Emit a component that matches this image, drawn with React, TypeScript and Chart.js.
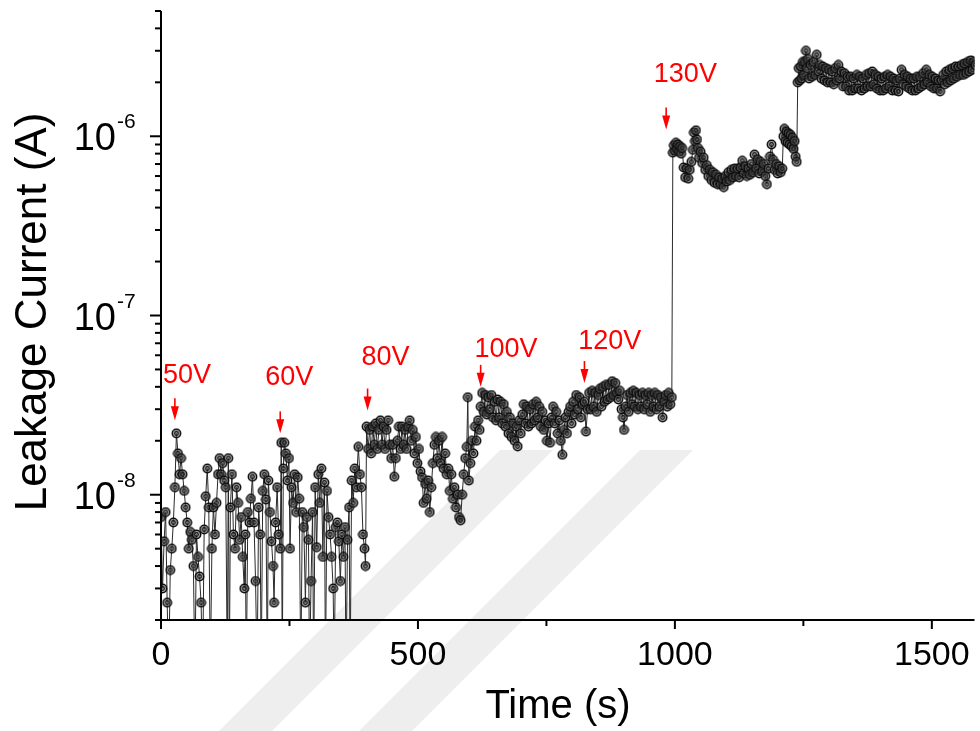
import { useEffect, useRef } from 'react';
import { Chart, registerables } from 'chart.js';

Chart.register(...registerables);

type Sample = [number, number]; // [time in s, leakage current in A]

// Values of 1e-9 lie below the plotted range: the trace drops off the bottom axis.
const preStep: Sample[] = [
  [0, 7.5e-9], [3, 3e-9], [6, 5.5e-9], [9, 8e-9], [12, 2.5e-9], [15, 1e-9], [18, 3.8e-9],
  [21, 5e-9], [24, 7e-9],
];

const step50V: Sample[] = [
  [27, 1.1e-8], [30, 2.2e-8], [33, 1.7e-8], [36, 1.3e-8], [39, 1.6e-8], [42, 1.3e-8], [45, 1.05e-8],
  [48, 8.5e-9], [51, 7e-9], [54, 5e-9], [57, 6.2e-9], [60, 5.6e-9], [63, 4e-9], [66, 1e-9],
  [69, 6e-9], [72, 4.5e-9], [75, 3.5e-9], [78, 2.5e-9], [81, 1e-9], [84, 6.4e-9], [87, 9.8e-9],
  [90, 1.4e-8], [93, 8.5e-9], [96, 1e-9], [99, 5e-9], [102, 8.5e-9], [105, 6e-9], [108, 9e-9],
  [111, 1.3e-8], [114, 1.6e-8], [117, 1.3e-8], [120, 1.5e-8], [123, 1.2e-8], [126, 1.1e-8],
  [129, 1e-9], [131, 1.6e-8], [133, 1e-9], [135, 8.5e-9], [138, 1.3e-8], [141, 6e-9], [144, 5e-9],
  [147, 1.1e-8], [150, 9e-9], [153, 5.6e-9], [156, 7.5e-9], [159, 4.5e-9], [162, 3e-9], [164, 6e-9],
  [166, 1e-9], [169, 8e-9], [172, 7e-9], [175, 9.5e-9], [178, 1.26e-8], [181, 7e-9], [184, 3.3e-9],
  [187, 1e-9], [190, 8.5e-9], [193, 6e-9], [195, 1e-9], [198, 1.05e-8], [201, 1.3e-8], [204, 9.4e-9],
  [207, 1e-9], [209, 1.2e-8], [212, 8e-9], [215, 5.5e-9], [218, 4e-9], [220, 2.5e-9], [223, 7e-9],
  [226, 1.1e-8], [229, 6e-9],
];

const step60V: Sample[] = [
  [232, 5e-9], [234, 1.95e-8], [236, 1e-9], [238, 1.4e-8], [240, 1.95e-8], [243, 1.7e-8], [246, 1.2e-8],
  [249, 1.6e-8], [251, 5e-9], [254, 1.1e-8], [257, 9e-9], [260, 1.3e-8], [263, 8e-9], [266, 1.25e-8],
  [269, 9.5e-9], [272, 1e-9], [275, 8e-9], [278, 6.6e-9], [281, 2.5e-9], [284, 7.5e-9], [287, 5.6e-9],
  [289, 1e-9], [292, 3.3e-9], [295, 8e-9], [297, 1e-9], [300, 1.1e-8], [303, 5.1e-9], [306, 1.3e-8],
  [309, 9e-9], [312, 1.4e-8], [315, 4.5e-9], [318, 1.17e-8], [320, 1e-9], [323, 1.05e-8], [326, 7.5e-9],
  [329, 6e-9], [332, 4.5e-9], [335, 3e-9], [337, 1e-9], [340, 6.6e-9], [343, 7e-9], [346, 5.5e-9],
  [349, 3.3e-9], [352, 6e-9], [355, 4.5e-9], [358, 6.6e-9], [360, 1e-9], [363, 5.6e-9], [366, 8.5e-9],
  [368, 1e-9], [371, 1.2e-8], [374, 9e-9], [377, 1.4e-8], [380, 1.1e-8], [384, 1.85e-8], [387, 1.3e-8],
  [390, 1.1e-8], [393, 6e-9], [396, 5e-9], [398, 4e-9],
];

const step80V: Sample[] = [
  [400, 2.4e-8], [403, 1.8e-8], [406, 2.3e-8], [409, 1.7e-8], [412, 2.4e-8], [415, 1.9e-8], [418, 2.5e-8],
  [421, 1.8e-8], [424, 2.3e-8], [427, 2.6e-8], [430, 1.9e-8], [433, 2.4e-8], [436, 1.8e-8], [439, 2.3e-8],
  [442, 2.6e-8], [445, 1.9e-8], [448, 1.6e-8], [451, 1.9e-8], [454, 1.26e-8], [457, 1.6e-8], [460, 2e-8],
  [463, 2.4e-8], [466, 1.8e-8], [469, 2.4e-8], [472, 1.9e-8], [475, 2.3e-8], [478, 1.8e-8], [481, 2.4e-8],
  [484, 2.6e-8], [487, 2e-8], [490, 2.3e-8], [493, 1.7e-8], [496, 2.1e-8], [499, 1.5e-8], [502, 1.8e-8],
  [505, 1.35e-8], [508, 1.25e-8], [511, 9e-9], [514, 1.15e-8], [517, 9.5e-9], [520, 1.2e-8], [523, 8e-9],
  [526, 1.1e-8], [529, 1.5e-8], [532, 1.9e-8], [535, 2.1e-8], [538, 1.6e-8], [541, 2e-8], [544, 1.5e-8],
  [547, 2.1e-8], [550, 1.4e-8], [553, 1.7e-8], [556, 1.3e-8], [559, 1.4e-8], [562, 1.05e-8], [565, 1.3e-8],
  [568, 9.5e-9], [571, 1.1e-8], [574, 8.5e-9], [577, 1e-8], [580, 7.5e-9], [583, 7.2e-9], [586, 1e-8],
  [589, 1.3e-8], [592, 1.6e-8], [595, 1.85e-8], [597, 3.5e-8], [599, 1.2e-8], [602, 1.5e-8], [605, 2e-8],
  [608, 1.7e-8], [611, 2.4e-8], [614, 2e-8], [617, 2.6e-8], [620, 2.3e-8],
];

const step100V: Sample[] = [
  [622, 3.1e-8], [625, 3.7e-8], [628, 2.9e-8], [631, 3.6e-8], [634, 2.8e-8], [637, 3.5e-8], [640, 3e-8],
  [643, 3.6e-8], [646, 2.7e-8], [649, 3.3e-8], [652, 2.6e-8], [655, 3.4e-8], [658, 2.7e-8], [661, 3.3e-8],
  [664, 2.5e-8], [667, 3.2e-8], [670, 2.4e-8], [673, 2.9e-8], [676, 2.2e-8], [679, 2.7e-8], [682, 2.1e-8],
  [685, 2.5e-8], [688, 2e-8], [691, 2.4e-8], [694, 1.86e-8], [697, 2.6e-8], [700, 2.2e-8], [703, 2.8e-8],
  [706, 3.2e-8], [709, 2.5e-8], [712, 3.1e-8], [715, 2.4e-8], [718, 3e-8], [721, 2.5e-8], [724, 3.2e-8],
  [727, 2.6e-8], [730, 3.3e-8], [733, 2.7e-8], [736, 3.1e-8], [739, 2.4e-8], [742, 2.9e-8], [745, 2.3e-8],
  [748, 2.6e-8], [751, 2e-8], [754, 2.5e-8], [757, 1.95e-8], [760, 2.7e-8], [763, 3.1e-8], [766, 2.5e-8],
  [769, 2.9e-8], [772, 2.2e-8], [775, 2.6e-8], [778, 2e-8], [781, 1.67e-8], [784, 2.3e-8], [787, 2.7e-8],
  [790, 2.2e-8], [793, 2.9e-8], [796, 3.1e-8], [799, 2.5e-8], [802, 3.3e-8], [805, 2.8e-8], [808, 3.6e-8],
  [811, 3e-8], [814, 3.5e-8], [817, 2.7e-8], [820, 3.2e-8],
];

const step120V: Sample[] = [
  [824, 3.3e-8], [827, 2.25e-8], [830, 3e-8], [833, 3.7e-8], [836, 3e-8], [839, 3.8e-8], [842, 3.1e-8],
  [845, 3.7e-8], [848, 2.9e-8], [851, 3.6e-8], [854, 3.9e-8], [857, 3.1e-8], [860, 4e-8], [863, 3.3e-8],
  [866, 4.1e-8], [869, 3.4e-8], [872, 4.1e-8], [875, 3.5e-8], [878, 4.3e-8], [881, 3.6e-8], [884, 4.2e-8],
  [887, 3.7e-8], [890, 3.4e-8], [893, 3.8e-8], [896, 3e-8], [899, 2.7e-8], [901, 2.3e-8], [904, 3.1e-8],
  [907, 3.6e-8], [910, 2.9e-8], [913, 3.7e-8], [916, 3.2e-8], [919, 3.8e-8], [922, 3.1e-8], [925, 3.7e-8],
  [928, 3e-8], [931, 3.6e-8], [934, 3.1e-8], [937, 3.7e-8], [940, 3e-8], [943, 3.6e-8], [946, 3.2e-8],
  [949, 3.7e-8], [952, 2.9e-8], [955, 3.6e-8], [958, 3.1e-8], [961, 3.7e-8], [964, 3e-8], [967, 3.6e-8],
  [970, 3.1e-8], [973, 3.5e-8], [976, 2.7e-8], [979, 3.3e-8], [982, 3.6e-8], [985, 3.1e-8], [988, 3.7e-8],
  [991, 3.2e-8], [994, 3.5e-8],
];

const step130V: Sample[] = [
  [996, 8.1e-7], [998, 8.9e-7], [1000, 8.3e-7], [1002, 9.2e-7], [1004, 8.5e-7], [1006, 9e-7], [1008, 8.2e-7],
  [1010, 8.8e-7], [1012, 8e-7], [1014, 8.6e-7], [1017, 6.7e-7], [1020, 5.9e-7], [1023, 6.6e-7], [1026, 5.8e-7],
  [1029, 6.5e-7], [1032, 7.2e-7], [1035, 8.4e-7], [1037, 1.05e-6], [1039, 9.4e-7], [1041, 1.08e-6], [1043, 9.6e-7],
  [1045, 8.6e-7], [1047, 7.6e-7], [1050, 8.2e-7], [1053, 7.1e-7], [1056, 7.6e-7], [1059, 6.5e-7], [1062, 6.9e-7],
  [1065, 6e-7], [1068, 6.5e-7], [1071, 5.7e-7], [1074, 6.3e-7], [1077, 5.5e-7], [1080, 6.1e-7], [1083, 5.4e-7],
  [1086, 5.9e-7], [1089, 5.4e-7], [1092, 5.8e-7], [1095, 5.2e-7], [1098, 6e-7], [1101, 5.6e-7], [1104, 6.3e-7],
  [1107, 5.7e-7], [1110, 6.5e-7], [1113, 5.9e-7], [1116, 6.6e-7], [1119, 6e-7], [1122, 6.6e-7], [1125, 5.9e-7],
  [1128, 6.7e-7], [1131, 7.3e-7], [1134, 6.2e-7], [1137, 6.8e-7], [1140, 6e-7], [1143, 6.6e-7], [1146, 6.1e-7],
  [1149, 7e-7], [1152, 6.3e-7], [1155, 7.9e-7], [1158, 6.6e-7], [1161, 7.4e-7], [1164, 6.2e-7], [1167, 7.2e-7],
  [1170, 6.4e-7], [1173, 7e-7], [1176, 6e-7], [1179, 5.4e-7], [1182, 6.6e-7], [1185, 7.7e-7], [1188, 9e-7],
  [1191, 7.4e-7], [1194, 6.5e-7], [1197, 7e-7], [1200, 6.2e-7], [1203, 6.8e-7], [1206, 6.3e-7], [1209, 6.6e-7],
  [1211, 1e-6], [1213, 1.1e-6], [1215, 9.4e-7], [1217, 1.06e-6], [1219, 9.2e-7], [1221, 1.04e-6], [1223, 9e-7],
  [1225, 1.02e-6], [1227, 8.8e-7], [1229, 9.8e-7], [1231, 8.5e-7], [1233, 9.4e-7], [1235, 7.7e-7], [1237, 7.2e-7],
  [1239, 2e-6], [1241, 2.4e-6], [1243, 2.05e-6], [1245, 2.45e-6], [1247, 2.1e-6], [1249, 2.6e-6], [1251, 2.2e-6],
  [1253, 2.6e-6], [1255, 3e-6], [1257, 2.4e-6], [1259, 2.7e-6], [1261, 2.1e-6], [1264, 2.5e-6], [1267, 2.15e-6],
  [1270, 2.6e-6], [1273, 2.2e-6], [1276, 2.85e-6], [1279, 2.3e-6], [1282, 2.5e-6], [1285, 2.1e-6], [1288, 2.45e-6],
  [1291, 2.05e-6], [1294, 2.4e-6], [1297, 2e-6], [1300, 2.35e-6], [1303, 2e-6], [1306, 2.3e-6], [1309, 1.95e-6],
  [1312, 2.4e-6], [1315, 2.05e-6], [1318, 2.5e-6], [1321, 2.1e-6], [1324, 2.3e-6], [1327, 1.9e-6], [1330, 2.25e-6],
  [1333, 1.9e-6], [1336, 2.15e-6], [1339, 1.8e-6], [1342, 2.15e-6], [1345, 1.8e-6], [1348, 2.1e-6], [1351, 1.85e-6],
  [1354, 2.2e-6], [1357, 1.85e-6], [1360, 2.15e-6], [1363, 1.8e-6], [1366, 2.1e-6], [1369, 1.85e-6], [1372, 2.2e-6],
  [1375, 1.9e-6], [1378, 2.25e-6], [1381, 1.9e-6], [1384, 2.3e-6], [1387, 1.95e-6], [1390, 2.2e-6], [1393, 1.85e-6],
  [1396, 2.15e-6], [1399, 1.8e-6], [1402, 2.1e-6], [1405, 1.8e-6], [1408, 2.15e-6], [1411, 1.85e-6], [1414, 2.2e-6],
  [1417, 1.9e-6], [1420, 2.15e-6], [1423, 1.8e-6], [1426, 2.1e-6], [1429, 1.8e-6], [1432, 2.05e-6], [1435, 1.78e-6],
  [1438, 2.1e-6], [1441, 2.35e-6], [1444, 1.95e-6], [1447, 2.2e-6], [1450, 1.9e-6], [1453, 2.15e-6], [1456, 1.85e-6],
  [1459, 2.1e-6], [1462, 1.8e-6], [1465, 2.1e-6], [1468, 1.8e-6], [1471, 2.15e-6], [1474, 1.85e-6], [1477, 2.15e-6],
  [1480, 1.9e-6], [1483, 2.25e-6], [1486, 1.95e-6], [1489, 2.35e-6], [1492, 2e-6], [1495, 2.2e-6], [1498, 1.9e-6],
  [1501, 2.15e-6], [1504, 1.85e-6], [1507, 2.1e-6], [1510, 1.85e-6], [1513, 2.05e-6], [1516, 1.78e-6], [1519, 2.05e-6],
  [1522, 2.2e-6], [1525, 1.95e-6], [1528, 2.3e-6], [1531, 2e-6], [1534, 2.35e-6], [1537, 2.05e-6], [1540, 2.4e-6],
  [1543, 2.1e-6], [1546, 2.45e-6], [1549, 2.15e-6], [1552, 2.45e-6], [1555, 2.2e-6], [1558, 2.5e-6], [1561, 2.2e-6],
  [1564, 2.55e-6], [1567, 2.25e-6], [1570, 2.6e-6], [1573, 2.3e-6], [1576, 2.65e-6], [1579, 2.35e-6], [1582, 2.6e-6],
  [1585, 2.5e-6],
];

// Axis ranges and ticks
const timeRange = [0, 1583];
const currentRange = [2e-9, 5e-6];
const timeMajorTicks = [0, 500, 1000, 1500];
const timeMinorTicks = [250, 750, 1250];
const currentDecades = [-8, -7, -6];
const currentMinorMantissas = [2, 3, 4, 5, 6, 7, 8, 9];

// Voltage-step markers: arrow at time t pointing down to current `tip`,
// label placed with its left edge at labelT and baseline at labelI.
const stepLabels = ['50V', '60V', '80V', '100V', '120V', '130V'];
const stepTimes = [27, 232, 402, 622, 824, 983];
const stepArrowTips = [2.6e-8, 2.2e-8, 2.95e-8, 4e-8, 4.2e-8, 1.09e-6];
const stepLabelTimes = [4, 203, 390, 610, 812, 959];
const stepLabelCurrents = [4.2e-8, 4.1e-8, 5.3e-8, 5.9e-8, 6.5e-8, 2.0e-6];

const FONT = '"Liberation Sans", Arial, Helvetica, sans-serif';

function makeMarker(): HTMLCanvasElement {
  const c = document.createElement('canvas');
  c.width = 11;
  c.height = 11;
  const g = c.getContext('2d')!;
  g.beginPath();
  g.arc(5.5, 5.5, 4.2, 0, Math.PI * 2);
  g.fillStyle = 'rgba(110,110,110,0.6)';
  g.fill();
  g.strokeStyle = '#0d0d0d';
  g.lineWidth = 1.5;
  g.stroke();
  g.beginPath();
  g.arc(5.5, 5.5, 1.8, 0, Math.PI * 2);
  g.strokeStyle = '#111';
  g.lineWidth = 1.2;
  g.stroke();
  return c;
}

// faint diagonal stripes of the page watermark behind the plot
const watermark = {
  id: 'watermark',
  beforeDraw(chart: any) {
    const { ctx } = chart;
    ctx.save();
    ctx.fillStyle = '#eeeeee';
    const stripes = [500, 640];
    for (const sx of stripes) {
      ctx.beginPath();
      ctx.moveTo(sx, 450);
      ctx.lineTo(sx + 53, 450);
      ctx.lineTo(sx + 53 - 281, 731);
      ctx.lineTo(sx - 281, 731);
      ctx.closePath();
      ctx.fill();
    }
    ctx.restore();
  },
};

const axisDecor = {
  id: 'axisDecor',
  afterDatasetsDraw(chart: any) {
    const { ctx, chartArea } = chart;
    const xs = chart.scales.x;
    const ys = chart.scales.y;
    const { left, right, top, bottom } = chartArea;
    ctx.save();

    // axis lines
    ctx.strokeStyle = '#000';
    ctx.lineWidth = 2;
    ctx.beginPath();
    ctx.moveTo(left, top);
    ctx.lineTo(left, bottom);
    ctx.lineTo(right, bottom);
    ctx.stroke();

    // x ticks
    for (const v of timeMajorTicks) {
      const px = xs.getPixelForValue(v);
      ctx.beginPath();
      ctx.moveTo(px, bottom);
      ctx.lineTo(px, bottom + 9);
      ctx.stroke();
    }
    for (const v of timeMinorTicks) {
      const px = xs.getPixelForValue(v);
      ctx.beginPath();
      ctx.moveTo(px, bottom);
      ctx.lineTo(px, bottom + 6);
      ctx.stroke();
    }
    ctx.fillStyle = '#000';
    ctx.font = `34px ${FONT}`;
    ctx.textAlign = 'center';
    ctx.textBaseline = 'alphabetic';
    for (const v of timeMajorTicks) {
      ctx.fillText(String(v), xs.getPixelForValue(v), bottom + 45);
    }

    // y ticks
    for (const d of currentDecades) {
      const py = ys.getPixelForValue(Math.pow(10, d));
      ctx.beginPath();
      ctx.moveTo(left, py);
      ctx.lineTo(left - 11, py);
      ctx.stroke();
      ctx.textAlign = 'right';
      ctx.font = `38px ${FONT}`;
      ctx.fillText('10', left - 45, py + 14);
      ctx.textAlign = 'left';
      ctx.font = `21px ${FONT}`;
      ctx.fillText(String(d), left - 44, py - 8);
    }
    for (const d of [-9, ...currentDecades]) {
      for (const m of currentMinorMantissas) {
        const v = m * Math.pow(10, d);
        if (v < currentRange[0] || v > currentRange[1] * 1.0001) continue;
        const py = ys.getPixelForValue(v);
        ctx.beginPath();
        ctx.moveTo(left, py);
        ctx.lineTo(left - 6, py);
        ctx.stroke();
      }
    }

    // axis titles
    ctx.textAlign = 'center';
    ctx.font = `40px ${FONT}`;
    ctx.fillText('Time (s)', 558, 718);
    ctx.save();
    ctx.translate(46, 312);
    ctx.rotate(-Math.PI / 2);
    ctx.font = `44px ${FONT}`;
    ctx.fillText('Leakage Current (A)', 0, 0);
    ctx.restore();

    // voltage-step arrows and labels
    ctx.fillStyle = '#ff0000';
    ctx.strokeStyle = '#ff0000';
    ctx.lineWidth = 1.6;
    ctx.font = `27px ${FONT}`;
    ctx.textAlign = 'left';
    stepLabels.forEach((label, i) => {
      const ax = xs.getPixelForValue(stepTimes[i]);
      const tip = ys.getPixelForValue(stepArrowTips[i]);
      ctx.beginPath();
      ctx.moveTo(ax, tip - 22);
      ctx.lineTo(ax, tip - 12);
      ctx.stroke();
      ctx.beginPath();
      ctx.moveTo(ax - 4, tip - 14);
      ctx.lineTo(ax + 4, tip - 14);
      ctx.lineTo(ax, tip);
      ctx.closePath();
      ctx.fill();
      ctx.fillText(label, xs.getPixelForValue(stepLabelTimes[i]), ys.getPixelForValue(stepLabelCurrents[i]));
    });

    ctx.restore();
  },
};

export default function App() {
  const canvasRef = useRef<HTMLCanvasElement | null>(null);

  useEffect(() => {
    const canvas = canvasRef.current;
    if (!canvas) return;
    const series = [...preStep, ...step50V, ...step60V, ...step80V, ...step100V, ...step120V, ...step130V];
    const marker = makeMarker();

    const chart = new Chart(canvas, {
      type: 'line',
      data: {
        datasets: [
          {
            label: 'Leakage current',
            data: series.map(([t, i]) => ({ x: t, y: i })),
            borderColor: '#2a2a2a',
            borderWidth: 1,
            pointStyle: marker as any,
            pointRadius: 4.5,
            tension: 0,
          },
        ],
      },
      options: {
        animation: false,
        responsive: false,
        events: [],
        layout: { padding: { top: 11, right: 0, bottom: 0, left: 0 } },
        plugins: {
          legend: { display: false },
          tooltip: { enabled: false },
          title: { display: false },
        },
        scales: {
          x: {
            type: 'linear',
            min: timeRange[0],
            max: timeRange[1],
            grid: { display: false },
            border: { display: false },
            ticks: { display: false },
            afterFit: (s: any) => {
              s.height = 111;
            },
          },
          y: {
            type: 'logarithmic',
            min: currentRange[0],
            max: currentRange[1],
            grid: { display: false },
            border: { display: false },
            ticks: { display: false },
            afterFit: (s: any) => {
              s.width = 161;
            },
          },
        },
      },
      plugins: [watermark, axisDecor],
    });

    return () => chart.destroy();
  }, []);

  return (
    <div style={{ position: 'absolute', left: 0, top: 0, width: 980, height: 731, background: '#fff' }}>
      <canvas ref={canvasRef} width={980} height={731} style={{ display: 'block' }} />
    </div>
  );
}
